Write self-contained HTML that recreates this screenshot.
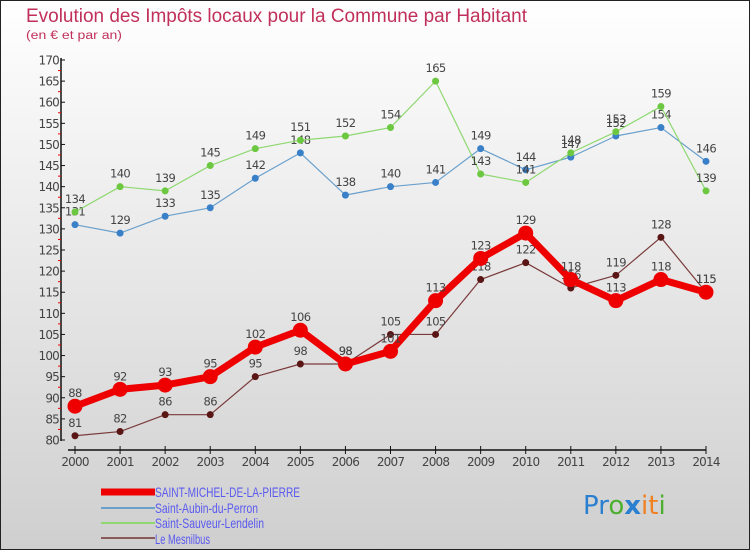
<!DOCTYPE html>
<html><head><meta charset="utf-8"><style>
body{margin:0;}
svg{display:block;font-family:"DejaVu Sans","Liberation Sans",sans-serif;}
</style></head><body>
<svg id="c" width="750" height="550" xmlns="http://www.w3.org/2000/svg">
<defs><linearGradient id="bg" x1="0" y1="0" x2="0" y2="1"><stop offset="0" stop-color="#ffffff"/><stop offset="1" stop-color="#cfcfcf"/></linearGradient></defs>
<rect x="0.5" y="0.5" width="749" height="549" fill="url(#bg)" stroke="#222"/>
<text x="26" y="22" font-size="19" fill="#c0305a" font-family="Liberation Sans, sans-serif" textLength="501" lengthAdjust="spacingAndGlyphs">Evolution des Impôts locaux pour la Commune par Habitant</text>
<text x="26" y="39" font-size="11.5" fill="#c0305a" font-family="Liberation Sans, sans-serif" textLength="96" lengthAdjust="spacingAndGlyphs">(en € et par an)</text>
<g id="axes"></g>
<g id="series"></g>
<g id="legend" font-family="Liberation Sans, sans-serif">
<line x1="101" y1="492" x2="155" y2="492" stroke="#e00" stroke-width="7"/>
<text x="155" y="497" font-size="14" fill="#5a5af0" textLength="145" lengthAdjust="spacingAndGlyphs">SAINT-MICHEL-DE-LA-PIERRE</text>
<line x1="101" y1="508" x2="155" y2="508" stroke="#6aa0cc" stroke-width="2"/>
<text x="155" y="513" font-size="14" fill="#5a5af0" textLength="103" lengthAdjust="spacingAndGlyphs">Saint-Aubin-du-Perron</text>
<line x1="101" y1="523" x2="155" y2="523" stroke="#8fd870" stroke-width="2"/>
<text x="155" y="528" font-size="14" fill="#5a5af0" textLength="109" lengthAdjust="spacingAndGlyphs">Saint-Sauveur-Lendelin</text>
<line x1="101" y1="538" x2="155" y2="538" stroke="#8a5a5a" stroke-width="2"/>
<text x="155" y="544" font-size="14" fill="#5a5af0" textLength="55" lengthAdjust="spacingAndGlyphs">Le Mesnilbus</text>
</g>
<text x="583" y="514" font-size="26" font-family="'DejaVu Sans',sans-serif"><tspan fill="#2a7fd0">Pr</tspan><tspan fill="#4caf30">o</tspan><tspan fill="#2a7fd0" font-weight="bold">x</tspan><tspan fill="#f08020">it</tspan><tspan fill="#4caf30">i</tspan></text>
</svg>
<script>
const years=[2000,2001,2002,2003,2004,2005,2006,2007,2008,2009,2010,2011,2012,2013,2014];
const smp=[88,92,93,95,102,106,98,101,113,123,129,118,113,118,115];
const aubin=[131,129,133,135,142,148,138,140,141,149,144,147,152,154,146];
const sauveur=[134,140,139,145,149,151,152,154,165,143,141,148,153,159,139];
const mesnilbus=[81,82,86,86,95,98,98,105,105,118,122,116,119,128,115];
const yTicks=[80,85,90,95,100,105,110,115,120,125,130,135,140,145,150,155,160,165,170];
const NS='http://www.w3.org/2000/svg';
const X=i=>75+i*(706-75)/(years.length-1);
const Y=v=>440-(v-80)*(380/90);
function mk(t,a,p){const e=document.createElementNS(NS,t);for(const k in a)e.setAttribute(k,a[k]);p.appendChild(e);return e;}
const ax=document.getElementById('axes');
let l=mk('line',{x1:61,y1:58,x2:61,y2:441,stroke:'#111','stroke-width':1.5},ax);


l=mk('line',{x1:68,y1:450,x2:706,y2:450,stroke:'#111','stroke-width':1.5},ax);


yTicks.forEach(v=>{
 mk('line',{x1:61,y1:Y(v),x2:65,y2:Y(v),stroke:'#111'},ax);
 if(v<170){mk('line',{x1:58,y1:Y(v+2.5),x2:61,y2:Y(v+2.5),stroke:'#e00'},ax);}
 const t=mk('text',{x:59,y:Y(v)+4.5,'font-size':12,'text-anchor':'end',fill:'#444','letter-spacing':'-0.8'},ax);
 t.textContent=v;
 
 
});
years.forEach((yr,i)=>{
 mk('line',{x1:X(i),y1:446,x2:X(i),y2:454,stroke:'#111'},ax);
 const t=mk('text',{x:X(i),y:466,'font-size':12,'text-anchor':'middle',fill:'#444','letter-spacing':'-0.8'},ax);
 t.textContent=yr;
 
 
});
const sg=document.getElementById('series');
function draw(data,name,color,w,r,dot){
 const g=mk('g',{},sg);
 
 
 const p=mk('polyline',{points:data.map((v,i)=>X(i)+','+Y(v)).join(' '),fill:'none',stroke:color,'stroke-width':w,'stroke-linejoin':'round'},g);
 
 
 data.forEach((v,i)=>{
  const c=mk('circle',{cx:X(i),cy:Y(v),r:r,fill:dot},g);
  
  
  const t=mk('text',{x:X(i),y:Y(v)-9,'font-size':11.5,'text-anchor':'middle',fill:'#444','letter-spacing':'-0.6'},g);
  t.textContent=v;
  
  
 });
}
draw(aubin,'aubin','#6aa0cc',1.2,3.5,'#3a80c8');
draw(sauveur,'sauveur','#8fd870',1.2,3.5,'#6cc840');
draw(mesnilbus,'mesnilbus','#7a3a3a',1.2,3.5,'#5a1515');
draw(smp,'smp','#ee0000',7,7.5,'#ee0000');
</script>
</body></html>
